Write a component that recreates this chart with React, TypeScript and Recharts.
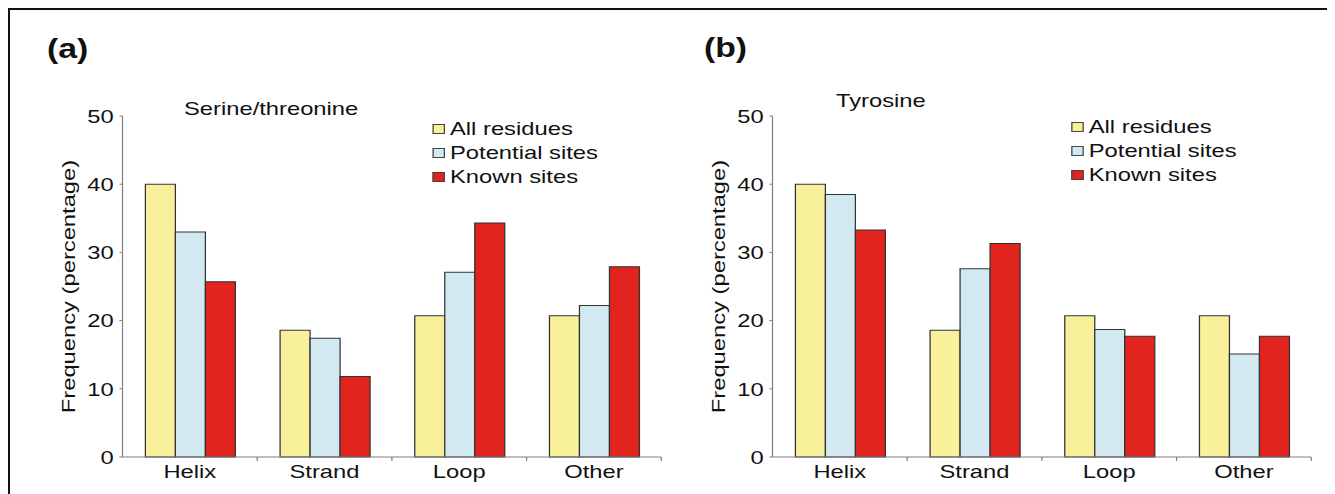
import { BarChart, Bar, XAxis, YAxis, Legend } from "recharts";

// values (percent)
const categories = ["Helix", "Strand", "Loop", "Other"];
const seriesNames = ["All residues", "Potential sites", "Known sites"];
const serAll = [40, 18.6, 20.7, 20.7];
const serPotential = [33, 17.4, 27.1, 22.2];
const serKnown = [25.7, 11.8, 34.3, 27.9];
const tyrAll = [40, 18.6, 20.7, 20.7];
const tyrPotential = [38.5, 27.6, 18.7, 15.1];
const tyrKnown = [33.3, 31.3, 17.7, 17.7];
const yTicks = [0, 10, 20, 30, 40, 50];
const yLabel = "Frequency (percentage)";

const FILLS = ["#f9f09c", "#d3e9f2", "#e2241f"];
const FONT = '"Liberation Sans", Arial, Helvetica, sans-serif';
const AXIS = "#808080";
const INK = "#111";

// the figure's lettering is wide, so the whole drawing is stretched sideways
const SX = 1.25;
const CH_W = 540;
const CH_H = 484;
const Y_W = 90;
const MARGIN = { top: 106, right: 19, bottom: 7, left: 0 };
const BAND = (CH_W - MARGIN.right - Y_W) / categories.length;

const buildData = (all: number[], potential: number[], known: number[]) =>
  categories.map((c, i) => ({ category: c, all: all[i], potential: potential[i], known: known[i] }));

function XTick(props: any) {
  const { x, y, payload, index } = props;
  const half = BAND / 2;
  return (
    <g>
      {index > 0 && <line x1={x - half} x2={x - half} y1={y} y2={y + 4} stroke={AXIS} />}
      {index === categories.length - 1 && (
        <line x1={x + half} x2={x + half} y1={y} y2={y + 4} stroke={AXIS} />
      )}
      <text x={x} y={y + 21} textAnchor="middle" fontSize={19} fill={INK} fontFamily={FONT}>
        {payload.value}
      </text>
    </g>
  );
}

function YLabel(props: any) {
  const vb = props.viewBox || { x: 0, y: MARGIN.top, width: Y_W, height: 341 };
  const cx = vb.x + 47;
  const cy = vb.y + vb.height / 2;
  return (
    <text
      transform={`translate(${cx},${cy}) rotate(-90) scale(${SX},${1 / SX})`}
      textAnchor="middle"
      dominantBaseline="central"
      fontSize={19}
      fill={INK}
      fontFamily={FONT}
    >
      {yLabel}
    </text>
  );
}

// legend keeps the series order of the figure
function LegendBox() {
  return (
    <div style={{ fontFamily: FONT, fontSize: 19, color: INK, lineHeight: "24px" }}>
      {seriesNames.map((name, i) => (
        <div key={name} style={{ display: "flex", alignItems: "center", whiteSpace: "nowrap" }}>
          <span
            style={{
              display: "inline-block",
              width: 10,
              height: 10,
              background: FILLS[i],
              border: "1px solid #444",
              boxSizing: "border-box",
              marginRight: 4,
            }}
          />
          {name}
        </div>
      ))}
    </div>
  );
}

function Panel({ data, left, legendLeft, legendTop }: any) {
  return (
    <div style={{ position: "absolute", left, top: 0 }}>
      <BarChart width={CH_W} height={CH_H} data={data} margin={MARGIN} barCategoryGap="17%" barGap={0}>
        <XAxis
          dataKey="category"
          height={30}
          tickSize={0}
          tickMargin={0}
          tickLine={false}
          axisLine={{ stroke: AXIS }}
          tick={<XTick />}
          interval={0}
        />
        <YAxis
          width={Y_W}
          domain={[0, 50]}
          ticks={yTicks}
          tickSize={2.5}
          tickMargin={4.5}
          axisLine={{ stroke: AXIS }}
          tickLine={{ stroke: AXIS }}
          tick={{ fill: INK, fontSize: 19, fontFamily: FONT }}
          label={YLabel}
        />
        <Legend
          layout="vertical"
          align="center"
          verticalAlign="middle"
          content={<LegendBox />}
          wrapperStyle={{ left: legendLeft, top: legendTop, width: "auto" }}
        />
        <Bar dataKey="all" name={seriesNames[0]} fill={FILLS[0]} stroke="#333" strokeWidth={1} isAnimationActive={false} />
        <Bar dataKey="potential" name={seriesNames[1]} fill={FILLS[1]} stroke="#333" strokeWidth={1} isAnimationActive={false} />
        <Bar dataKey="known" name={seriesNames[2]} fill={FILLS[2]} stroke="#333" strokeWidth={1} isAnimationActive={false} />
      </BarChart>
    </div>
  );
}

export default function App() {
  const serData = buildData(serAll, serPotential, serKnown);
  const tyrData = buildData(tyrAll, tyrPotential, tyrKnown);
  return (
    <div
      style={{
        position: "relative",
        width: 1327,
        height: 486,
        borderTop: "2px solid #111",
        borderLeft: "2px solid #111",
        boxSizing: "border-box",
        overflow: "hidden",
        background: "#fff",
      }}
    >
      <div
        style={{
          position: "absolute",
          left: 0,
          top: 0,
          width: 1060,
          height: CH_H,
          transform: `scaleX(${SX})`,
          transformOrigin: "0 0",
        }}
      >
        <Panel data={serData} left={0} legendLeft={338} legendTop={107} />
        <Panel data={tyrData} left={520} legendLeft={329} legendTop={105} />
        <svg
          width={1060}
          height={CH_H}
          style={{ position: "absolute", left: 0, top: 0, pointerEvents: "none" }}
          fontFamily={FONT}
          fill={INK}
        >
          <text x={29.6} y={48} fontSize={27} fontWeight="bold">(a)</text>
          <text x={555.2} y={47} fontSize={27} fontWeight="bold">(b)</text>
          <text x={139.2} y={105} fontSize={19}>Serine/threonine</text>
          <text x={660.8} y={97} fontSize={19}>Tyrosine</text>
        </svg>
      </div>
    </div>
  );
}
